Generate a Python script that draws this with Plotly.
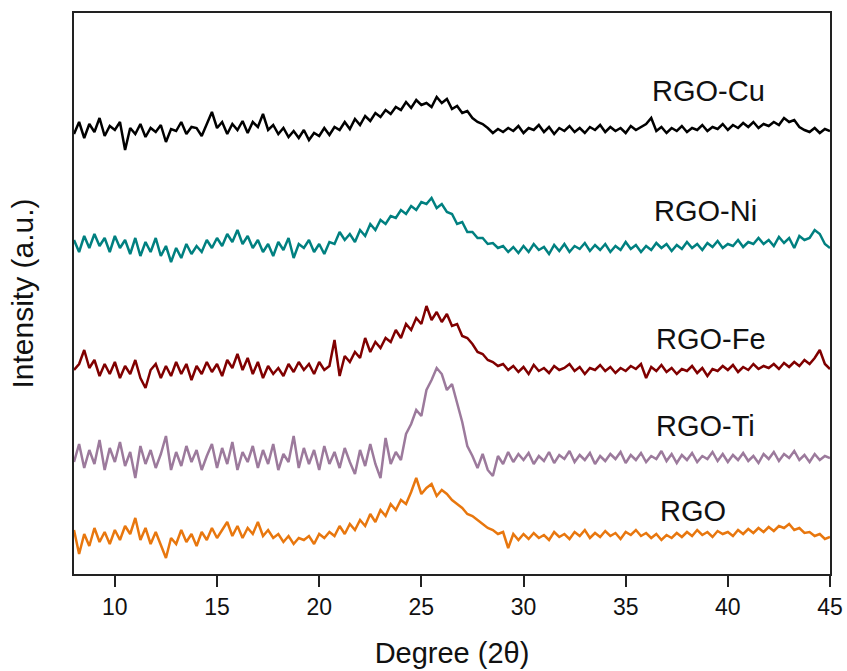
import numpy as np
import plotly.graph_objects as go

# 2-theta grid start / step (degrees)
x_start = 8.0
x_step = 0.25

# Intensities (a.u.), 8 values per 2 degrees
rgo_cu = [
    440, 452, 436, 450, 442, 456, 438, 448,
    444, 452, 424, 446, 440, 450, 437, 446,
    442, 449, 432, 445, 443, 452, 440, 447,
    446, 438, 450, 462, 446, 452, 440, 450,
    444, 453, 441, 452, 447, 460, 444, 449,
    440, 446, 437, 443, 436, 444, 434, 441,
    438, 446, 439, 447, 444, 452, 445, 455,
    449, 458, 453, 461, 457, 464, 460, 467,
    464, 472, 466, 474, 469, 471, 467, 477,
    471, 475, 465, 468, 461, 463, 456, 452,
    450, 446, 441, 445, 442, 446, 443, 448,
    441, 446, 444, 449, 442, 447, 440, 446,
    443, 448, 442, 446, 441, 447, 444, 449,
    442, 447, 443, 446, 441, 448, 444, 447,
    450, 456, 443, 447, 441, 446, 443, 448,
    442, 446, 444, 449, 443, 447, 445, 450,
    444, 449, 446, 451, 447, 452, 446, 450,
    448, 452, 449, 456, 452, 454, 447, 444,
    442, 446, 441, 445, 443,
]
rgo_ni = [
    334, 322, 338, 326, 340, 328, 336, 322,
    338, 326, 334, 320, 336, 318, 332, 322,
    336, 318, 328, 312, 326, 316, 330, 320,
    328, 322, 334, 326, 336, 328, 340, 332,
    344, 330, 338, 326, 334, 322, 330, 318,
    332, 324, 336, 316, 330, 326, 334, 322,
    330, 320, 332, 330, 342, 334, 340, 332,
    344, 338, 350, 344, 354, 350, 358, 356,
    364, 360, 368, 364, 372, 370, 376, 366,
    370, 362, 360, 350, 352, 342, 342, 336,
    336, 330, 331, 326, 328, 322, 327, 321,
    328, 322, 330, 324, 327, 320, 329, 323,
    330, 322, 328, 325, 331, 323, 329, 324,
    330, 322, 328, 324, 332, 325, 329, 322,
    328, 324, 331, 326, 330, 323, 329, 325,
    332, 326, 330, 324, 331, 327, 333, 326,
    330, 328, 334, 327, 332, 330, 336, 330,
    334, 328, 337, 331, 336, 326, 338, 334,
    336, 344, 340, 330, 326,
]
rgo_fe = [
    204, 210, 224, 206, 214, 198, 210, 200,
    212, 196, 208, 200, 214, 196, 186, 204,
    210, 196, 208, 198, 212, 200, 210, 194,
    208, 200, 212, 202, 210, 198, 214, 206,
    220, 204, 216, 200, 212, 196, 208, 200,
    206, 198, 210, 202, 212, 204, 210, 200,
    212, 204, 208, 234, 198, 218, 212, 222,
    216, 236, 222, 232, 226, 236, 232, 244,
    236, 250, 244, 256, 250, 268, 254, 262,
    252, 260, 248, 250, 238, 236, 230, 222,
    220, 214, 212, 208, 210, 204, 208, 202,
    207, 200, 209, 203, 206, 201, 208, 204,
    206, 210, 203, 207, 200, 206, 204, 209,
    203, 207, 201, 206, 203, 208, 205, 210,
    196, 207, 203, 209, 202, 206, 200, 205,
    203, 208, 201, 206, 198, 205, 203, 208,
    204, 209, 202, 207, 204, 210, 205, 208,
    206, 210, 205, 211, 207, 212, 208, 214,
    210, 216, 224, 210, 205,
]
rgo_ti = [
    112, 130, 106, 124, 110, 134, 104, 126,
    112, 132, 108, 122, 96, 128, 110, 124,
    106, 120, 138, 104, 122, 108, 128, 112,
    124, 104, 118, 130, 106, 126, 110, 132,
    104, 122, 112, 128, 106, 124, 110, 130,
    104, 120, 112, 138, 106, 126, 110, 124,
    104, 128, 110, 122, 106, 126, 112, 100,
    124, 108, 130, 110, 96, 136, 110, 122,
    114, 140, 150, 164, 158, 184, 194, 206,
    200, 184, 190, 170, 152, 128, 118, 106,
    120, 104, 98, 118, 110, 122, 112, 120,
    114, 121, 110, 118, 113, 122, 111, 119,
    115, 123, 112, 119, 114, 121, 110, 118,
    113, 120, 115, 122, 111, 119, 114, 121,
    112, 118, 115, 123, 113, 120, 111, 119,
    114, 121, 112, 118, 115, 122, 113, 120,
    112, 119, 114, 121, 113, 118, 111, 120,
    115, 122, 113, 120, 116, 123, 114, 119,
    112, 120, 114, 118, 116,
]
rgo = [
    44, 20, 40, 28, 46, 32, 42, 30,
    44, 34, 48, 40, 56, 34, 46, 30,
    42, 28, 16, 36, 30, 44, 32, 40,
    28, 42, 34, 46, 36, 44, 52, 38,
    48, 36, 46, 40, 52, 38, 44, 36,
    40, 32, 38, 30, 36, 34, 38, 30,
    40, 36, 42, 38, 48, 40, 50, 44,
    54, 48, 60, 52, 64, 58, 70, 64,
    74, 70, 82, 96, 80, 86, 90, 78,
    84, 80, 74, 70, 66, 60, 58, 54,
    50, 46, 44, 40, 42, 26, 40, 34,
    40, 35, 41, 36, 39, 34, 42, 37,
    40, 35, 42, 38, 44, 36, 41, 37,
    43, 38, 41, 35, 42, 39, 44, 38,
    41, 36, 40, 34, 39, 36, 41, 37,
    42, 38, 44, 39, 42, 37, 43, 40,
    42, 38, 44, 40, 45, 41, 46, 42,
    47, 43, 48, 46, 50, 44, 46, 41,
    42, 38, 40, 35, 37,
]

series_names = ["RGO-Cu", "RGO-Ni", "RGO-Fe", "RGO-Ti", "RGO"]
series_vals = [rgo_cu, rgo_ni, rgo_fe, rgo_ti, rgo]
series_colors = ["#000000", "#008080", "#800000", "#9C7A9C", "#E8770E"]
label_x = [36.2, 36.3, 36.4, 36.4, 36.6]
label_y = [483, 363, 235, 148, 63]

fig = go.Figure()
for name, vals, col in zip(series_names, series_vals, series_colors):
    xs = x_start + x_step * np.arange(len(vals))
    fig.add_trace(go.Scatter(x=xs, y=vals, mode="lines", name=name,
                             line=dict(color=col, width=2.5)))

for name, lx, ly in zip(series_names, label_x, label_y):
    fig.add_annotation(x=lx, y=ly, text=name, showarrow=False,
                       xanchor="left", yanchor="middle",
                       font=dict(family="Liberation Sans, Arial", size=29, color="#111111"))

fig.update_layout(
    width=847, height=671,
    margin=dict(l=74, r=17, t=13, b=97),
    plot_bgcolor="white", paper_bgcolor="white",
    showlegend=False,
    font=dict(family="Liberation Sans, Arial", color="#111111"),
)
fig.update_xaxes(range=[8, 45], tickvals=[10, 15, 20, 25, 30, 35, 40, 45],
                 ticks="outside", ticklen=11, tickwidth=2, tickcolor="#222222",
                 showline=True, linecolor="#222222", linewidth=2, mirror=True,
                 showgrid=False, zeroline=False, automargin=False,
                 tickfont=dict(size=23),
                 title=dict(text="Degree (2θ)", font=dict(size=29), standoff=24))
fig.update_yaxes(range=[0, 561], showticklabels=False, ticks="",
                 showline=True, linecolor="#222222", linewidth=2, mirror=True,
                 showgrid=False, zeroline=False, automargin=False,
                 title=dict(text="Intensity (a.u.)", font=dict(size=30), standoff=30))

fig.write_html("out.html")
